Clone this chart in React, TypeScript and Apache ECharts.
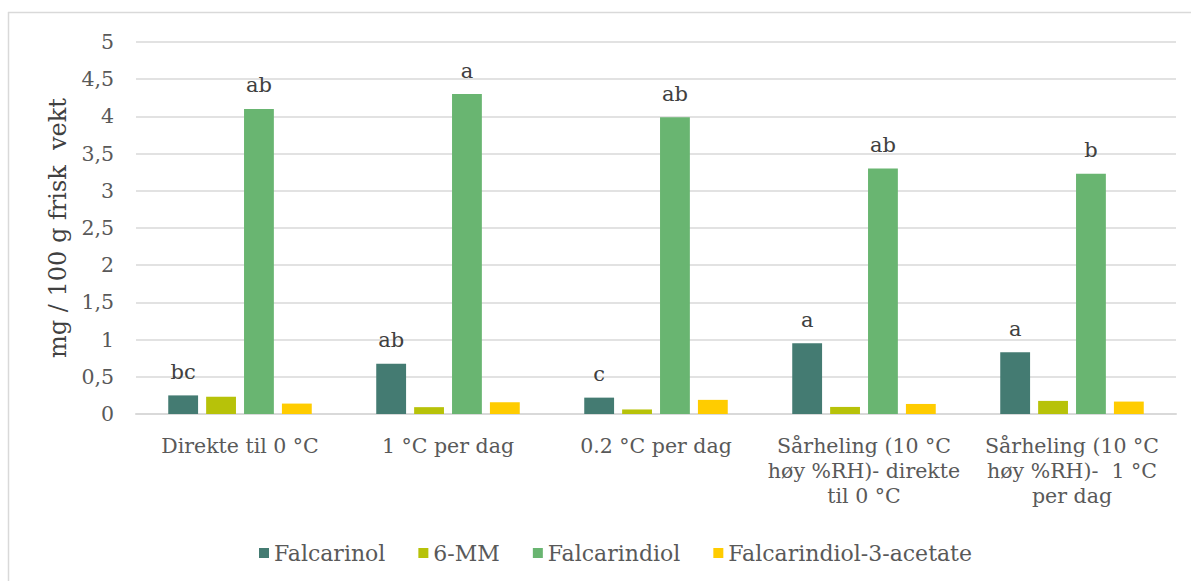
import React, { useEffect, useRef } from "react";
import * as echarts from "echarts";

const categories = [
  "Direkte til 0 °C",
  "1 °C per dag",
  "0.2 °C per dag",
  "Sårheling (10 °C\nhøy %RH)- direkte\ntil 0 °C",
  "Sårheling (10 °C\nhøy %RH)-  1 °C\nper dag",
];
const falcarinol = [0.25, 0.675, 0.22, 0.95, 0.83];
const mm6 = [0.232, 0.092, 0.061, 0.095, 0.176];
const falcarindiol = [4.1, 4.3, 3.99, 3.3, 3.23];
const acetate = [0.14, 0.158, 0.19, 0.135, 0.167];
const falcarinolLetters = ["bc", "ab", "c", "a", "a"];
const falcarindiolLetters = ["ab", "a", "ab", "ab", "b"];
const yTicks = { min: 0, max: 5, interval: 0.5 };

const FONT = "DejaVu Serif";
const TEXT = "#595959";

export default function App() {
  const ref = useRef<HTMLDivElement>(null);
  useEffect(() => {
    const chart = echarts.init(ref.current!, undefined, { renderer: "svg" });
    const letterLabel = (letters: string[]) => ({
      show: true,
      position: "top",
      distance: 13,
      fontFamily: FONT,
      fontSize: 21,
      color: "#404040",
      formatter: (p: any) => letters[p.dataIndex],
    });
    chart.setOption({
      animation: false,
      backgroundColor: "#ffffff",
      textStyle: { fontFamily: FONT },
      graphic: [
        { type: "line", shape: { x1: 8.5, y1: 12, x2: 8.5, y2: 581 }, style: { stroke: "#D9D9D9", lineWidth: 1.5 } },
        { type: "line", shape: { x1: 8, y1: 12.5, x2: 1191, y2: 12.5 }, style: { stroke: "#D9D9D9", lineWidth: 1.5 } },
      ],
      grid: { left: 136, right: 15, top: 42, bottom: 167, containLabel: false },
      legend: {
        top: 537,
        left: 254,
        itemWidth: 10,
        itemHeight: 10,
        itemGap: 33,
        icon: "rect",
        textStyle: { fontFamily: FONT, fontSize: 22, color: TEXT },
        data: ["Falcarinol", "6-MM", "Falcarindiol", "Falcarindiol-3-acetate"],
      },
      xAxis: {
        type: "category",
        data: categories,
        axisLine: { lineStyle: { color: "#D9D9D9", width: 2 } },
        axisTick: { show: false },
        axisLabel: {
          fontFamily: FONT,
          fontSize: 20.5,
          color: TEXT,
          margin: 19,
          lineHeight: 25,
          interval: 0,
        },
      },
      yAxis: {
        type: "value",
        ...yTicks,
        name: "mg / 100 g frisk  vekt",
        nameLocation: "middle",
        nameGap: 62,
        nameTextStyle: { fontFamily: FONT, fontSize: 24, color: "#404040" },
        axisLine: { show: false },
        axisTick: { show: false },
        splitLine: { lineStyle: { color: "#D9D9D9", width: 1.5 } },
        axisLabel: {
          fontFamily: FONT,
          fontSize: 20.5,
          color: TEXT,
          margin: 22,
          formatter: (v: number) => String(v).replace(".", ","),
        },
      },
      series: [
        { name: "Falcarinol", type: "bar", data: falcarinol, itemStyle: { color: "#447B72" }, barGap: "27%", barCategoryGap: "31%", label: letterLabel(falcarinolLetters) },
        { name: "6-MM", type: "bar", data: mm6, itemStyle: { color: "#B7C209" } },
        { name: "Falcarindiol", type: "bar", data: falcarindiol, itemStyle: { color: "#69B571" }, label: letterLabel(falcarindiolLetters) },
        { name: "Falcarindiol-3-acetate", type: "bar", data: acetate, itemStyle: { color: "#FFCC00" } },
      ],
    });
    return () => chart.dispose();
  }, []);
  return (
    <div
      ref={ref}
      style={{ position: "fixed", left: 0, top: 0, width: 1191, height: 581 }}
    />
  );
}
